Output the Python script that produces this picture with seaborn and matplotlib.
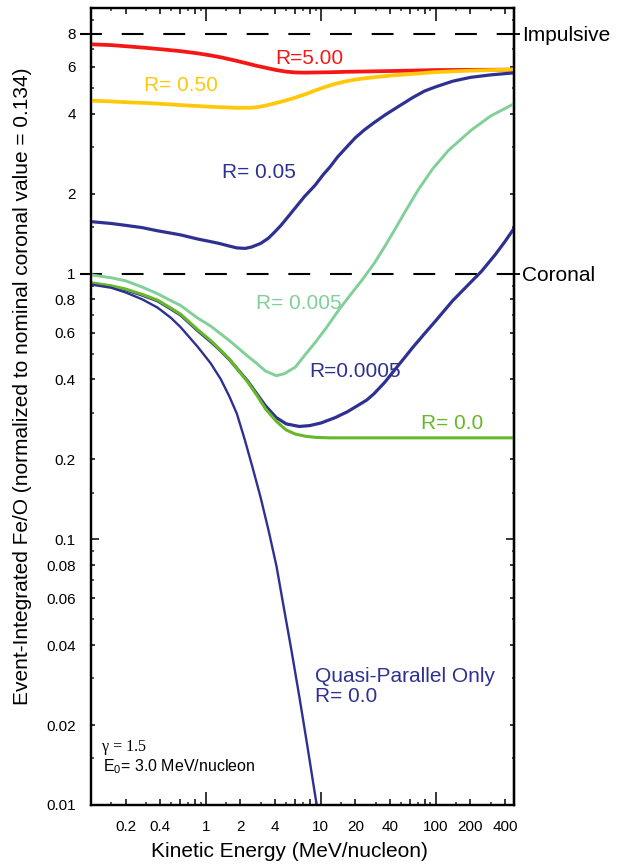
import matplotlib
matplotlib.use("Agg")
import matplotlib.pyplot as plt
import pandas as pd
import seaborn as sns
from matplotlib.ticker import FixedLocator, FixedFormatter, NullFormatter, NullLocator

sns.set_theme(style="white")
plt.rcParams["font.family"] = ["Liberation Sans", "DejaVu Sans"]
plt.rcParams["mathtext.default"] = "regular"

# Kinetic energy (MeV/nucleon) and event-integrated Fe/O (normalized) per curve
e_r5 = [0.1, 0.15, 0.2, 0.3, 0.4, 0.6, 0.85, 1.1, 1.4, 1.86, 2.3, 2.76, 3.3, 4.1, 5.0,
        6.0, 7.5, 9.0, 12, 16, 25, 40, 70, 100, 200, 480]
fe_r5 = [7.3, 7.25, 7.18, 7.08, 7.0, 6.88, 6.75, 6.63, 6.5, 6.32, 6.18, 6.06, 5.96, 5.84, 5.76,
         5.72, 5.71, 5.72, 5.73, 5.75, 5.77, 5.79, 5.82, 5.84, 5.85, 5.86]

e_r05 = [0.1, 0.15, 0.2, 0.3, 0.4, 0.6, 0.8, 1.2, 1.86, 2.4, 2.76, 3.3, 4.0, 5.0, 6.0, 7.5,
         9.0, 11, 13.3, 16, 20, 28, 43, 70, 100, 200, 480]
fe_r05 = [4.48, 4.45, 4.42, 4.39, 4.36, 4.31, 4.28, 4.24, 4.21, 4.21, 4.23, 4.29, 4.38, 4.49, 4.6, 4.75,
          4.9, 5.05, 5.18, 5.28, 5.38, 5.48, 5.58, 5.67, 5.74, 5.81, 5.87]

e_r005 = [0.1, 0.15, 0.2, 0.28, 0.38, 0.5, 0.6, 0.85, 1.1, 1.3, 1.6, 1.86, 2.2, 2.5, 3.0, 3.5,
          4.0, 4.5, 5.2, 6.0, 7.2, 8.9, 10.5, 12, 14, 16.6, 20, 24, 29, 36, 45, 63, 80, 100,
          140, 200, 300, 480]
fe_r005 = [1.57, 1.545, 1.52, 1.49, 1.45, 1.42, 1.40, 1.35, 1.32, 1.30, 1.27, 1.25, 1.245, 1.26, 1.30, 1.36,
           1.44, 1.52, 1.64, 1.77, 1.95, 2.15, 2.36, 2.52, 2.75, 2.98, 3.25, 3.48, 3.7, 3.95, 4.2, 4.6, 4.87, 5.05,
           5.3, 5.48, 5.6, 5.7]

e_r0005 = [0.1, 0.15, 0.2, 0.28, 0.38, 0.5, 0.6, 0.85, 1.1, 1.3, 1.6, 1.86, 2.3, 2.76, 3.3, 4.1,
           4.8, 6.0, 7.3, 9.0, 11, 14.5, 18, 23, 29, 36, 43, 55, 70, 94, 130, 204, 300, 480]
fe_r0005 = [0.99, 0.965, 0.94, 0.89, 0.84, 0.79, 0.76, 0.68, 0.635, 0.60, 0.56, 0.53, 0.49, 0.46, 0.43, 0.413,
            0.42, 0.445, 0.495, 0.553, 0.62, 0.735, 0.83, 0.95, 1.09, 1.265, 1.44, 1.73, 2.06, 2.48, 2.92,
            3.47, 3.92, 4.36]

e_r00005 = [0.1, 0.15, 0.2, 0.28, 0.38, 0.5, 0.6, 0.85, 1.1, 1.3, 1.6, 1.86, 2.3, 2.76, 3.3, 4.1,
            5.0, 6.5, 8, 10, 13.3, 17, 20, 25, 29, 36, 45, 54, 63, 80, 100, 140, 200, 250, 330, 400, 480]
fe_r00005 = [0.92, 0.895, 0.87, 0.83, 0.79, 0.735, 0.70, 0.61, 0.555, 0.52, 0.475, 0.44, 0.395, 0.354, 0.318, 0.287,
             0.272, 0.266, 0.268, 0.274, 0.287, 0.302, 0.315, 0.334, 0.353, 0.39, 0.44, 0.485, 0.527, 0.595, 0.665,
             0.79, 0.925, 1.02, 1.18, 1.32, 1.48]

e_r0 = [0.1, 0.15, 0.2, 0.28, 0.38, 0.5, 0.6, 0.85, 1.1, 1.3, 1.6, 1.86, 2.3, 2.76, 3.3, 4.1,
        5.0, 6.0, 7.5, 9, 12, 20, 480]
fe_r0 = [0.925, 0.9, 0.875, 0.835, 0.795, 0.74, 0.705, 0.615, 0.56, 0.522, 0.477, 0.44, 0.392, 0.35, 0.31, 0.278,
         0.258, 0.249, 0.244, 0.242, 0.241, 0.241, 0.241]

e_qpar = [0.1, 0.15, 0.2, 0.28, 0.38, 0.5, 0.6, 0.85, 1.1, 1.35, 1.6, 1.86, 2.18, 2.55, 2.99, 3.51,
          4.12, 4.73, 5.55, 6.52, 7.65, 8.98, 9.5]
fe_qpar = [0.91, 0.885, 0.85, 0.80, 0.745, 0.68, 0.63, 0.53, 0.46, 0.40, 0.345, 0.297, 0.237, 0.186, 0.144, 0.108,
           0.079, 0.0563, 0.0382, 0.0254, 0.0166, 0.0107, 0.0093]

# reference levels
ref_levels = [8.0, 1.0]
ref_names = ["Impulsive", "Coronal"]

NAVY = "#2e3192"
curves = [
    ("R=5.00", e_r5, fe_r5, "#f51616", 2.7),
    ("R= 0.50", e_r05, fe_r05, "#ffc808", 2.7),
    ("R= 0.05", e_r005, fe_r005, NAVY, 2.3),
    ("R= 0.005", e_r0005, fe_r0005, "#82cf98", 2.1),
    ("R=0.0005", e_r00005, fe_r00005, NAVY, 2.3),
    ("R= 0.0", e_r0, fe_r0, "#66b826", 2.2),
    ("Quasi-Parallel Only", e_qpar, fe_qpar, NAVY, 1.7),
]

frames = []
for name, e, fe, _, _ in curves:
    frames.append(pd.DataFrame({"curve": name, "energy": e, "ratio": fe}))
df = pd.concat(frames, ignore_index=True)

fig = plt.figure(figsize=(6.2, 8.67), dpi=100)
ax = fig.add_axes([91 / 620, 62 / 867, 423 / 620, 797 / 867])
ax.set_xscale("log")
ax.set_yscale("log")

for name, _, _, color, lw in curves:
    sub = df[df["curve"] == name]
    sns.lineplot(data=sub, x="energy", y="ratio", ax=ax, color=color, lw=lw,
                 sort=False, estimator=None, legend=False)

for lvl in ref_levels:
    ax.axhline(lvl, xmin=-0.025, xmax=1.0, color="black", lw=1.5,
               linestyle=(0, (10.5, 9.5)), clip_on=False, zorder=1)

ax.set_xlim(0.1, 480)
ax.set_ylim(0.01, 10)

# tick layout: decades long, 2/4/6/8 medium, 1.5/3/5/7/9 short
x_major = [0.2, 0.4, 0.6, 0.8, 2, 4, 6, 8, 20, 40, 60, 80, 200, 400]
x_labels = ["0.2", "0.4", "", "", "2", "4", "", "", "20", "40", "", "", "200", "400"]
x_minor = [0.15, 0.3, 0.5, 0.7, 0.9, 1.5, 3, 5, 7, 9, 15, 30, 50, 70, 90, 150, 300]
x_decades = [1, 10, 100]

y_major = [0.02, 0.04, 0.06, 0.08, 0.2, 0.4, 0.6, 0.8, 2, 4, 6, 8]
y_labels = ["0.02", "0.04", "0.06", "0.08", "0.2", "0.4", "0.6", "0.8", "2", "4", "6", "8"]
y_minor = [0.015, 0.03, 0.05, 0.07, 0.09, 0.15, 0.3, 0.5, 0.7, 0.9, 1.5, 3, 5, 7, 9]
y_decades = [0.01, 0.1, 1]

TICK_FS = 11

ax.xaxis.set_major_locator(FixedLocator(x_major))
ax.xaxis.set_major_formatter(FixedFormatter(x_labels))
ax.xaxis.set_minor_locator(FixedLocator(x_minor))
ax.xaxis.set_minor_formatter(NullFormatter())
ax.yaxis.set_major_locator(FixedLocator(y_major))
ax.yaxis.set_major_formatter(FixedFormatter(y_labels))
ax.yaxis.set_minor_locator(FixedLocator(y_minor))
ax.yaxis.set_minor_formatter(NullFormatter())

ax.tick_params(axis="x", which="major", direction="in", length=4.3, width=1.1,
               top=True, bottom=True, labelsize=TICK_FS, pad=11, colors="black")
ax.tick_params(axis="x", which="minor", direction="in", length=2.5, width=1.1,
               top=True, bottom=True)
ax.tick_params(axis="y", which="major", direction="in", length=3.0, width=1.1,
               left=True, right=True, labelsize=TICK_FS, pad=11, colors="black")
ax.tick_params(axis="y", which="minor", direction="in", length=1.8, width=1.1,
               left=True, right=True)

for sp in ax.spines.values():
    sp.set_visible(True)
    sp.set_color("black")
    sp.set_linewidth(1.6)

# decade ticks, with labels on the bottom/left only
for loc in ("bottom", "top"):
    sec = ax.secondary_xaxis(loc)
    sec.xaxis.set_major_locator(FixedLocator(x_decades))
    sec.xaxis.set_minor_locator(NullLocator())
    if loc == "bottom":
        sec.xaxis.set_major_formatter(FixedFormatter([str(v) for v in x_decades]))
    else:
        sec.xaxis.set_major_formatter(NullFormatter())
    sec.tick_params(which="major", direction="in", length=9.4, width=1.1,
                    labelsize=TICK_FS, pad=11, colors="black")
    sec.spines[loc].set_linewidth(1.6)
    sec.spines[loc].set_color("black")

for loc in ("left", "right"):
    sec = ax.secondary_yaxis(loc)
    sec.yaxis.set_major_locator(FixedLocator(y_decades))
    sec.yaxis.set_minor_locator(NullLocator())
    if loc == "left":
        sec.yaxis.set_major_formatter(FixedFormatter(["0.01", "0.1", "1"]))
    else:
        sec.yaxis.set_major_formatter(NullFormatter())
    sec.tick_params(which="major", direction="in", length=6.0, width=1.1,
                    labelsize=TICK_FS, pad=11, colors="black")
    sec.spines[loc].set_linewidth(1.6)
    sec.spines[loc].set_color("black")

# right-hand names for the reference levels
ref_ax = ax.secondary_yaxis("right")
ref_ax.yaxis.set_major_locator(FixedLocator(ref_levels))
ref_ax.yaxis.set_major_formatter(FixedFormatter(ref_names))
ref_ax.yaxis.set_minor_locator(NullLocator())
ref_ax.tick_params(which="major", direction="inout", length=9, width=1.3,
                   labelsize=15, pad=1, colors="black")
ref_ax.spines["right"].set_linewidth(1.6)

ax.set_xlabel("Kinetic Energy (MeV/nucleon)", fontsize=15, color="black")
ax.set_ylabel("Event-Integrated Fe/O (normalized to nominal coronal value = 0.134)",
              fontsize=15, color="black")
ax.xaxis.set_label_coords(0.47, -0.047)
ax.yaxis.set_label_coords(-0.14, 0.525)

# curve annotations
label_font = 15
ax.text(4.04, 6.48, "R=5.00", color="#f51616", fontsize=label_font, ha="left", va="center")
ax.text(0.289, 5.13, "R= 0.50", color="#ffc808", fontsize=label_font, ha="left", va="center")
ax.text(1.38, 2.41, "R= 0.05", color=NAVY, fontsize=label_font, ha="left", va="center")
ax.text(2.73, 0.769, "R= 0.005", color="#82cf98", fontsize=label_font, ha="left", va="center")
ax.text(7.9, 0.43, "R=0.0005", color=NAVY, fontsize=label_font, ha="left", va="center")
ax.text(74.5, 0.272, "R= 0.0", color="#66b826", fontsize=label_font, ha="left", va="center")
ax.text(8.9, 0.0304, "Quasi-Parallel Only", color=NAVY, fontsize=label_font,
        ha="left", va="center")
ax.text(8.9, 0.0256, "R= 0.0", color=NAVY, fontsize=label_font, ha="left", va="center")

ax.text(0.125, 0.01652, "\u03b3 = 1.5", family=["Liberation Serif", "DejaVu Serif"],
        fontsize=11.5, color="black", ha="left", va="center")
ax.text(0.127, 0.0140, "E$_0$= 3.0 MeV/nucleon", fontsize=11.5, color="black",
        ha="left", va="center")

fig.savefig("out.png", dpi=100, facecolor="white")
